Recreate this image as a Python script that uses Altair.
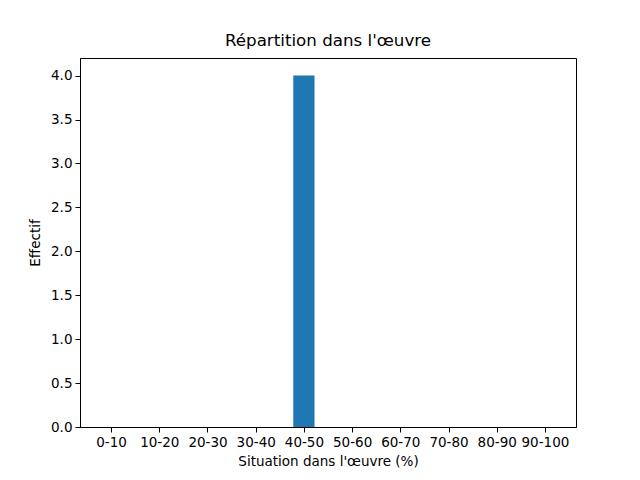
import altair as alt
import pandas as pd

categories = ["0-10", "10-20", "20-30", "30-40", "40-50", "50-60", "60-70", "70-80", "80-90", "90-100"]
counts = [0, 0, 0, 0, 4, 0, 0, 0, 0, 0]

half = 0.22
df = pd.DataFrame({
    "idx": list(range(len(categories))),
    "cat": categories,
    "count": counts,
})
df["x0"] = df["idx"] - half
df["x1"] = df["idx"] + half

label_expr = "[" + ",".join("'%s'" % c for c in categories) + "][datum.value]"

font = "DejaVu Sans"

chart = alt.Chart(df).mark_rect(color="#1f77b4", strokeWidth=0).encode(
    x=alt.X("x0:Q",
            scale=alt.Scale(domain=[-0.645, 9.645], nice=False, zero=False, padding=0),
            axis=alt.Axis(values=list(range(10)), labelExpr=label_expr,
                          title="Situation dans l'œuvre (%)", grid=False,
                          tickSize=5, labelPadding=3, titlePadding=6)),
    x2="x1:Q",
    y=alt.Y("count:Q",
            scale=alt.Scale(domain=[0, 4.2], nice=False, padding=0),
            axis=alt.Axis(values=[0, 0.5, 1, 1.5, 2, 2.5, 3, 3.5, 4], format=".1f",
                          title="Effectif", grid=False, tickSize=5,
                          labelPadding=3, titlePadding=8)),
    y2=alt.datum(0),
).properties(
    width=496,
    height=369,
    title=alt.TitleParams("Répartition dans l'œuvre", fontSize=16.7, fontWeight="normal",
                          font=font, color="black", offset=8, anchor="middle"),
    autosize=alt.AutoSizeParams(type="none"),
    padding={"left": 72, "top": 50, "right": 56, "bottom": 45},
).configure_axis(
    labelFont=font, titleFont=font, labelFontSize=13.5, titleFontSize=13.5,
    labelColor="black", titleColor="black", domainColor="black", tickColor="black",
    titleFontWeight="normal",
).configure_view(stroke="black", strokeWidth=1)

chart.save("out.html", embed_options={"renderer": "svg", "actions": False})
